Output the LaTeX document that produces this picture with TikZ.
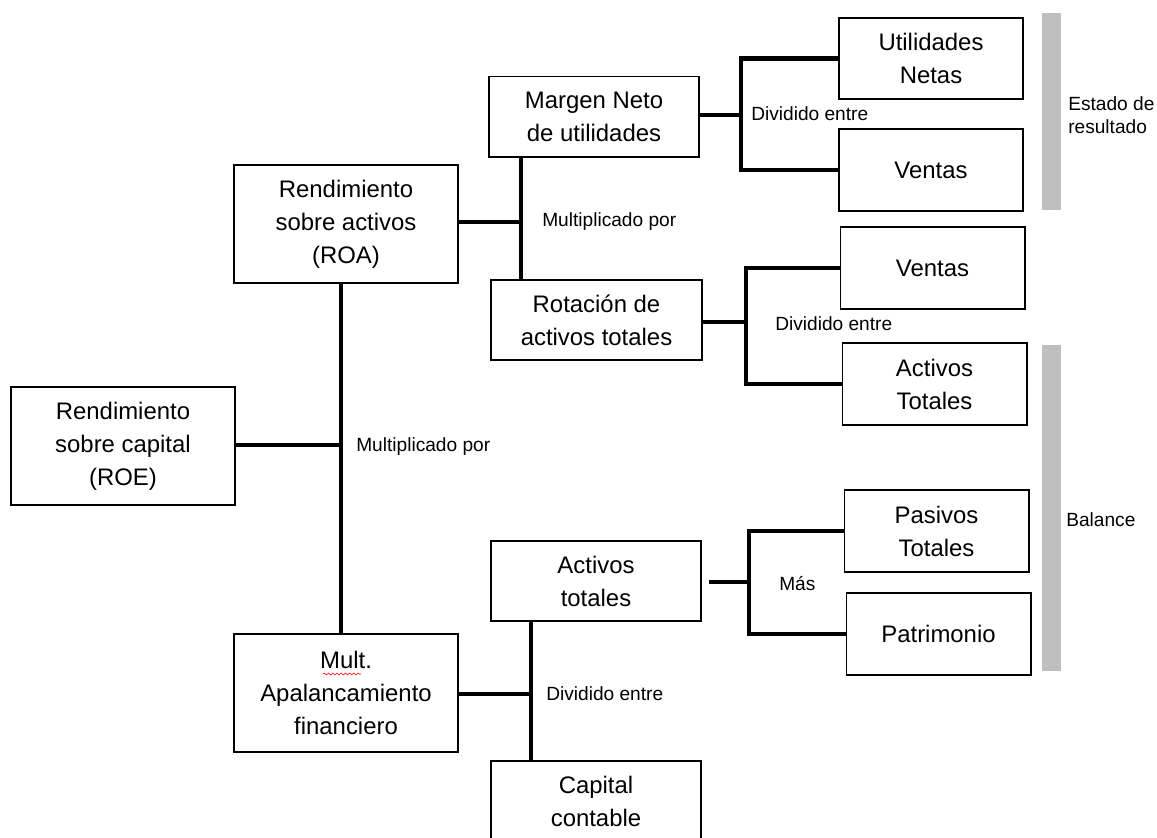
\documentclass[tikz,border=0pt]{standalone}
\usepackage{fontspec}
\setmainfont{Liberation Sans}
\usepackage{tikz}
\usetikzlibrary{decorations.pathmorphing}
\definecolor{barragris}{RGB}{191,191,191}
\tikzset{
  caja/.style={draw, line width=1.4pt, align=center, inner sep=0pt,
    font=\fontsize{17}{23.5}\selectfont},
  cajagrande/.style={caja, minimum width=5.6cm, minimum height=2.95cm},
  cajamedia/.style={caja, minimum width=5.25cm, minimum height=2.0cm},
  cajachica/.style={caja, minimum width=4.6cm, minimum height=2.03cm},
  rama/.style={line width=3pt},
  etiqueta/.style={anchor=west, inner sep=0pt, align=left,
    font=\fontsize{13.6}{16.5}\selectfont}
}

\begin{document}
\begin{tikzpicture}[x=0.025cm,y=-0.025cm]
  \useasboundingbox (0,0) rectangle (1157,837);

  \fill[barragris] (1042,13) rectangle (1061,210);
  \fill[barragris] (1042,345) rectangle (1061,671);

  \draw (123,446) node[cajagrande] (roe) {Rendimiento\\sobre capital\\(ROE)};
  \draw (346,224) node[cajagrande] (roa) {Rendimiento\\sobre activos\\(ROA)};
  \draw (346,693) node[cajagrande] (mult) {Mult.\\Apalancamiento\\financiero};
  \draw (594,116.5) node[cajamedia] (margen) {Margen Neto\\de utilidades};
  \draw (596.5,320) node[cajamedia] (rotacion) {Rotación de\\activos totales};
  \draw (596,581) node[cajamedia] (actot) {Activos\\totales};
  \draw (596,801) node[cajamedia] (capital) {Capital\\contable};
  \draw (931,58.5) node[cajachica] (util) {Utilidades\\Netas};
  \draw (931,170) node[cajachica] (ventasa) {Ventas};
  \draw (932.5,268) node[cajachica] (ventasb) {Ventas};
  \draw (934.5,384) node[cajachica] (activos) {Activos\\Totales};
  \draw (936.5,531) node[cajachica] (pasivos) {Pasivos\\Totales};
  \draw (938.5,634) node[cajachica] (patrim) {Patrimonio};

  \draw[red, decorate, decoration={snake, amplitude=0.7pt, segment length=3pt}]
    (323,674) -- (361,674);

  \coordinate (j1) at (341,445);
  \coordinate (j2) at (521,222);
  \coordinate (j3) at (741,115);
  \coordinate (j4) at (746,322);
  \coordinate (j5) at (749,582);
  \coordinate (j6) at (531,694);

  \draw[rama] (roe.east |- j1) -- (j1);
  \draw[rama] (roa.south -| j1) -- (mult.north -| j1);
  \draw[rama] (roa.east |- j2) -- (j2);
  \draw[rama] (margen.south -| j2) -- (rotacion.north -| j2);
  \draw[rama] (margen.east |- j3) -- (j3);
  \draw[rama] (util.west) -| (j3) |- (ventasa.west);
  \draw[rama] (rotacion.east |- j4) -- (j4);
  \draw[rama] (ventasb.west) -| (j4) |- (activos.west);
  \draw[rama, shorten <=5pt] (actot.east |- j5) -- (j5);
  \draw[rama] (pasivos.west) -| (j5) |- (patrim.west);
  \draw[rama] (mult.east |- j6) -- (j6);
  \draw[rama] (actot.south -| j6) -- (capital.north -| j6);

  \draw (356,447) node[etiqueta] (mpa) {Multiplicado por};
  \draw (542,222) node[etiqueta] (mpb) {Multiplicado por};
  \draw (751,114) node[etiqueta] (dea) {Dividido entre};
  \draw (775,324) node[etiqueta] (deb) {Dividido entre};
  \draw (779,584) node[etiqueta] (mas) {Más};
  \draw (546,694) node[etiqueta] (dec) {Dividido entre};
  \draw (1068,115) node[etiqueta] (estado) {Estado de\\resultado};
  \draw (1066,520) node[etiqueta] (balance) {Balance};
\end{tikzpicture}
\end{document}
